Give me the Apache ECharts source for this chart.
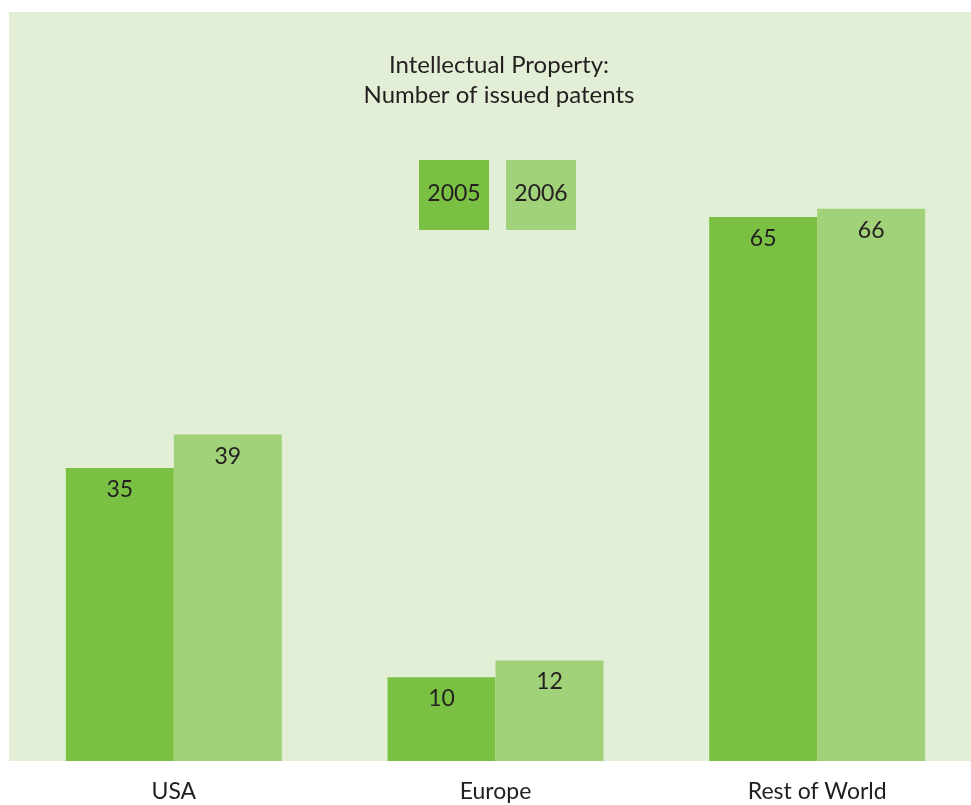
<!DOCTYPE html>
<html>
<head>
<meta charset="utf-8">
<title>Intellectual Property</title>
<script src="https://cdn.jsdelivr.net/npm/echarts@6/dist/echarts.min.js"></script>
<style>
    html, body { margin: 0; padding: 0; background: #ffffff; overflow: hidden; }
    #chart { width: 980px; height: 805px; }
</style>
</head>
<body>
<div id="chart"></div>
<script>
// data
const regions = ['USA', 'Europe', 'Rest of World'];
const years = ['2005', '2006'];
const patents2005 = [35, 10, 65];
const patents2006 = [39, 12, 66];
const yearColors = ['#7ac143', '#a1d178'];

const font = 'Lato, "Noto Sans", sans-serif';
const ink = '#231f20';

let chart = echarts.init(document.getElementById('chart'));

// legend squares with the year written inside
let legendBoxes = years.map((y, i) => ({
    type: 'group',
    left: 419 + i * 87,
    top: 160,
    children: [
        { type: 'rect', shape: { x: 0, y: 0, width: 70, height: 70 }, style: { fill: yearColors[i] } },
        { type: 'text', x: 35, y: 34, style: { text: y, font: '23px ' + font, fill: ink, align: 'center', verticalAlign: 'middle' } }
    ]
}));

let labelStyle = {
    show: true,
    position: 'insideTop',
    distance: 10,
    color: ink,
    fontFamily: font,
    fontSize: 23
};

chart.setOption({
    animation: false,
    textStyle: { fontFamily: font },
    title: {
        text: 'Intellectual Property:\nNumber of issued patents',
        left: 494,
        textAlign: 'center',
        top: 45,
        textStyle: { fontSize: 24, fontWeight: 'normal', color: ink, lineHeight: 30, fontFamily: font }
    },
    graphic: [
        { type: 'rect', z: -10, shape: { x: 9, y: 12, width: 962, height: 749 }, style: { fill: '#e2efd6' }, silent: true }
    ].concat(legendBoxes),
    grid: { left: 13, top: 12, width: 965, bottom: 44 },
    xAxis: {
        type: 'category',
        data: regions,
        axisLine: { show: false },
        axisTick: { show: false },
        axisLabel: { color: ink, fontSize: 23, margin: 19, fontFamily: font }
    },
    yAxis: {
        type: 'value',
        min: 0,
        max: 89.5,
        show: false,
        splitLine: { show: false }
    },
    series: [
        { name: years[0], type: 'bar', data: patents2005, barWidth: 108, barGap: '0%', itemStyle: { color: yearColors[0] }, label: labelStyle },
        { name: years[1], type: 'bar', data: patents2006, barWidth: 108, barGap: '0%', itemStyle: { color: yearColors[1] }, label: labelStyle }
    ]
});
</script>
</body>
</html>
